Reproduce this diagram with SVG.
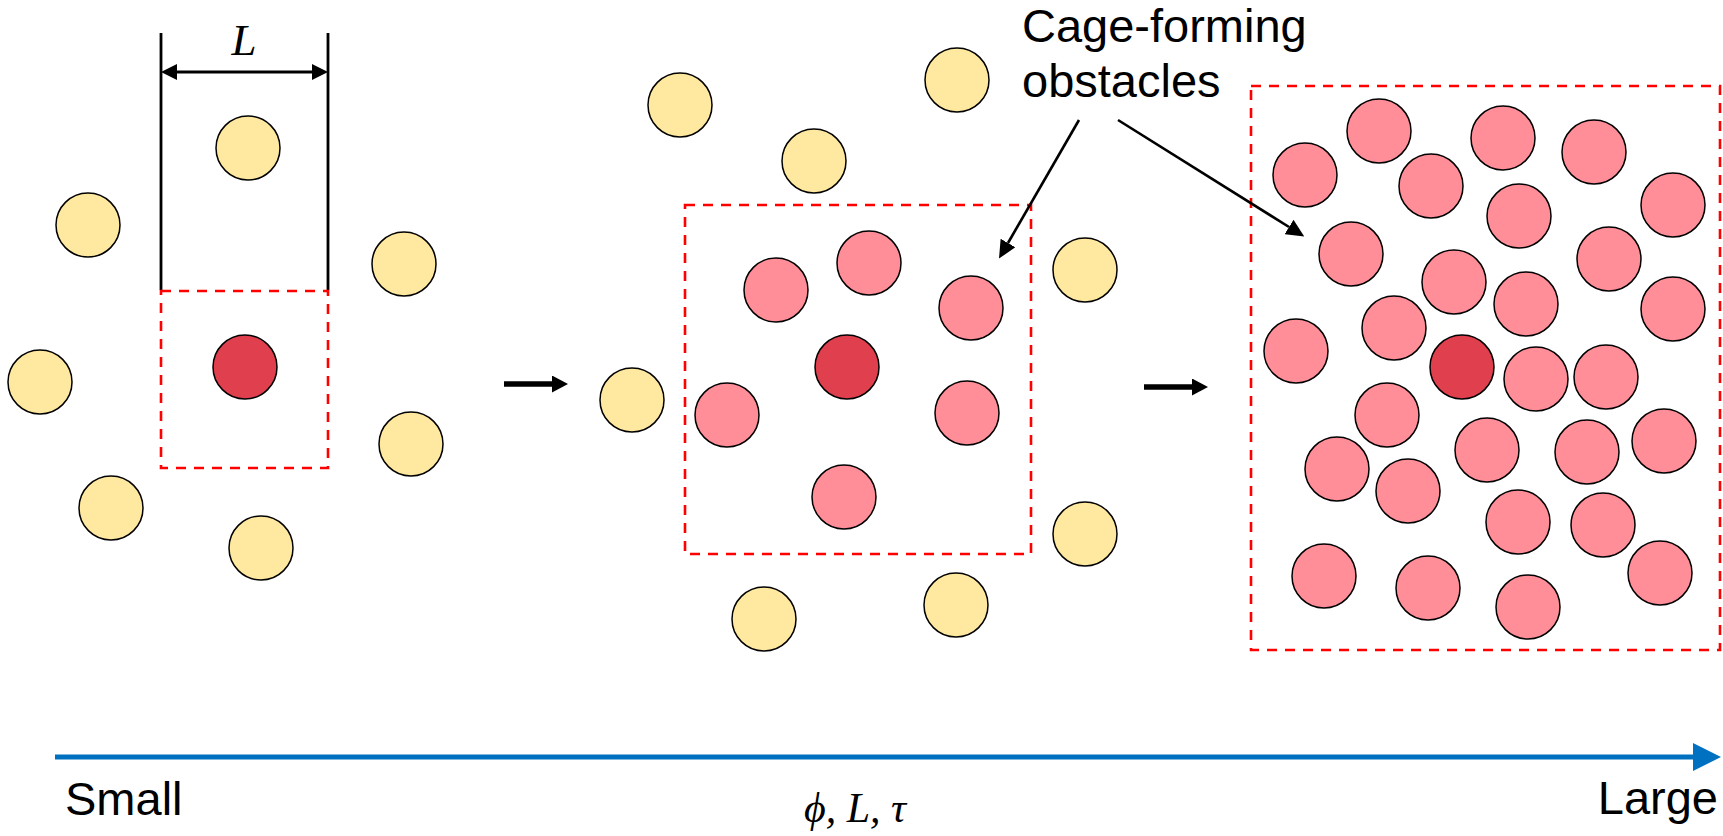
<svg xmlns="http://www.w3.org/2000/svg" width="1723" height="836" viewBox="0 0 1723 836">
<style>
.y{fill:#FFE89F;stroke:#000;stroke-width:1.5}
.p{fill:#FF8E99;stroke:#000;stroke-width:1.5}
.d{fill:#E03F4E;stroke:#000;stroke-width:1.5}
.box{fill:none;stroke:#FF0000;stroke-width:2.6;stroke-dasharray:10 8}
.t{font-family:"Liberation Sans",Arial,sans-serif;font-size:47px;fill:#000}
.m{font-family:"Liberation Serif","Times New Roman",serif;font-style:italic;fill:#000}
.ln{stroke:#000;fill:none}
</style>
<defs>
<marker id="hDim" markerWidth="16" markerHeight="16" refX="0" refY="8" orient="auto-start-reverse" markerUnits="userSpaceOnUse" viewBox="0 0 16 16"><path d="M0,0 L16,8 L0,16 z" fill="#000"/></marker>
<marker id="hMid" markerWidth="16" markerHeight="17" refX="0" refY="8.5" orient="auto" markerUnits="userSpaceOnUse" viewBox="0 0 16 17"><path d="M0,0 L16,8.5 L0,17 z" fill="#000"/></marker>
<marker id="hPtr" markerWidth="18" markerHeight="17" refX="0" refY="8.5" orient="auto" markerUnits="userSpaceOnUse" viewBox="0 0 18 17"><path d="M0,0 L18,8.5 L0,17 z" fill="#000"/></marker>
<marker id="hBlue" markerWidth="28" markerHeight="28" refX="0" refY="14" orient="auto" markerUnits="userSpaceOnUse" viewBox="0 0 28 28"><path d="M0,0 L28,14 L0,28 z" fill="#0070C0"/></marker>
</defs>
<rect width="1723" height="836" fill="#fff"/>

<g id="panel-small">
<line class="ln" x1="161" y1="33" x2="161" y2="290" stroke-width="2.8"/>
<line class="ln" x1="328" y1="33" x2="328" y2="290" stroke-width="2.8"/>
<rect class="box" x="161" y="291" width="167" height="177"/>
<circle class="y" cx="248" cy="148" r="32"/>
<circle class="y" cx="88" cy="225" r="32"/>
<circle class="y" cx="404" cy="264" r="32"/>
<circle class="y" cx="40" cy="382" r="32"/>
<circle class="d" cx="245" cy="367" r="32"/>
<circle class="y" cx="411" cy="444" r="32"/>
<circle class="y" cx="111" cy="508" r="32"/>
<circle class="y" cx="261" cy="548" r="32"/>
</g>

<g id="panel-medium">
<rect class="box" x="685" y="205" width="346" height="349"/>
<circle class="y" cx="680" cy="105" r="32"/>
<circle class="y" cx="957" cy="80" r="32"/>
<circle class="y" cx="814" cy="161" r="32"/>
<circle class="y" cx="632" cy="400" r="32"/>
<circle class="y" cx="764" cy="619" r="32"/>
<circle class="y" cx="956" cy="605" r="32"/>
<circle class="y" cx="1085" cy="270" r="32"/>
<circle class="y" cx="1085" cy="534" r="32"/>
<circle class="p" cx="776" cy="290" r="32"/>
<circle class="p" cx="869" cy="263" r="32"/>
<circle class="p" cx="971" cy="308" r="32"/>
<circle class="d" cx="847" cy="367" r="32"/>
<circle class="p" cx="727" cy="415" r="32"/>
<circle class="p" cx="967" cy="413" r="32"/>
<circle class="p" cx="844" cy="497" r="32"/>
</g>

<g id="panel-large">
<rect class="box" x="1251" y="86" width="469" height="564"/>
<circle class="p" cx="1379" cy="131" r="32"/>
<circle class="p" cx="1305" cy="175" r="32"/>
<circle class="p" cx="1431" cy="186" r="32"/>
<circle class="p" cx="1503" cy="138" r="32"/>
<circle class="p" cx="1594" cy="152" r="32"/>
<circle class="p" cx="1673" cy="205" r="32"/>
<circle class="p" cx="1519" cy="216" r="32"/>
<circle class="p" cx="1351" cy="254" r="32"/>
<circle class="p" cx="1454" cy="282" r="32"/>
<circle class="p" cx="1609" cy="259" r="32"/>
<circle class="p" cx="1526" cy="304" r="32"/>
<circle class="p" cx="1673" cy="309" r="32"/>
<circle class="p" cx="1296" cy="351" r="32"/>
<circle class="p" cx="1394" cy="328" r="32"/>
<circle class="d" cx="1462" cy="367" r="32"/>
<circle class="p" cx="1536" cy="379" r="32"/>
<circle class="p" cx="1606" cy="377" r="32"/>
<circle class="p" cx="1387" cy="415" r="32"/>
<circle class="p" cx="1487" cy="450" r="32"/>
<circle class="p" cx="1587" cy="452" r="32"/>
<circle class="p" cx="1664" cy="441" r="32"/>
<circle class="p" cx="1337" cy="469" r="32"/>
<circle class="p" cx="1408" cy="491" r="32"/>
<circle class="p" cx="1518" cy="522" r="32"/>
<circle class="p" cx="1603" cy="525" r="32"/>
<circle class="p" cx="1324" cy="576" r="32"/>
<circle class="p" cx="1428" cy="588" r="32"/>
<circle class="p" cx="1528" cy="607" r="32"/>
<circle class="p" cx="1660" cy="573" r="32"/>
</g>

<g id="labels">
<text class="m" x="244" y="55" font-size="45" text-anchor="middle">L</text>
<text class="t" x="1022" y="42">Cage-forming</text>
<text class="t" x="1022" y="97">obstacles</text>
<text class="t" x="65" y="815">Small</text>
<text class="t" x="1718" y="814" text-anchor="end">Large</text>
<text class="m" x="855" y="822" font-size="42" text-anchor="middle">ϕ, L, τ</text>
</g>

<g id="connectors">
<line class="ln" x1="177" y1="72" x2="312" y2="72" stroke-width="2.8" marker-start="url(#hDim)" marker-end="url(#hDim)"/>
<line class="ln" x1="504" y1="384" x2="552" y2="384" stroke-width="5.5" marker-end="url(#hMid)"/>
<line class="ln" x1="1144" y1="387" x2="1192" y2="387" stroke-width="5.5" marker-end="url(#hMid)"/>
<line class="ln" x1="1079" y1="120" x2="1008" y2="243" stroke-width="2.6" marker-end="url(#hPtr)"/>
<line class="ln" x1="1118" y1="120" x2="1289" y2="227" stroke-width="2.6" marker-end="url(#hPtr)"/>
<line x1="55" y1="757" x2="1693" y2="757" stroke="#0070C0" stroke-width="5" marker-end="url(#hBlue)"/>
</g>
</svg>
